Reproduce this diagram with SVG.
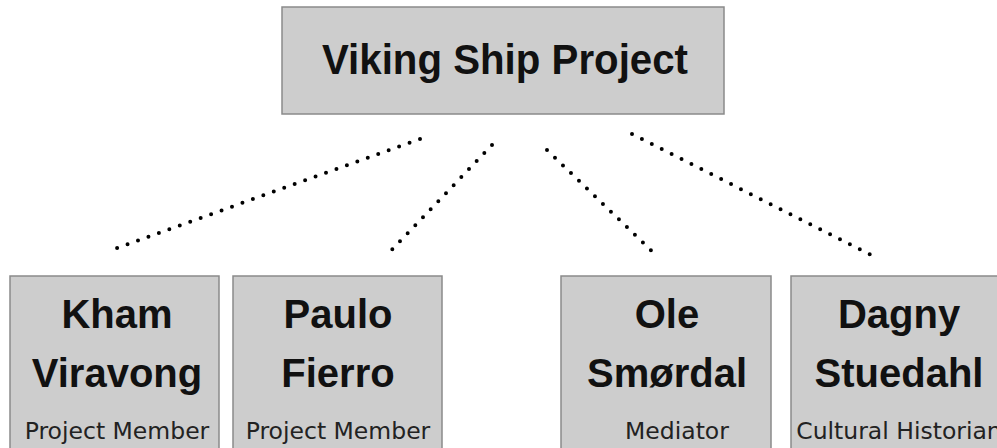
<svg xmlns="http://www.w3.org/2000/svg" width="997" height="448" viewBox="0 0 997 448">
<style>
.box{fill:#cdcdcd;stroke:#8a8a8a;stroke-width:1.5}
.title{font-family:"Liberation Sans",Arial,sans-serif;font-weight:bold;font-size:42px;fill:#111;text-anchor:middle}
.name{font-family:"Liberation Sans",Arial,sans-serif;font-weight:bold;font-size:40px;fill:#111;text-anchor:middle}
.role{font-family:"DejaVu Sans",Verdana,sans-serif;font-size:23.5px;fill:#222;text-anchor:middle}
.dot{fill:none;stroke:#000;stroke-width:4;stroke-linecap:round;stroke-dasharray:0 11.1}
</style>
<rect width="997" height="448" fill="#fff"/>
<g id="connectors">
<line class="dot" x1="420" y1="139" x2="117" y2="248"/>
<line class="dot" x1="492" y1="145" x2="385" y2="257"/>
<line class="dot" x1="547" y1="150" x2="658" y2="257"/>
<line class="dot" x1="632" y1="134" x2="879" y2="259"/>
</g>
<g id="viking-ship-project">
<rect class="box" x="282" y="7" width="442" height="107"/>
<text class="title" x="505" y="74" textLength="366" lengthAdjust="spacingAndGlyphs">Viking Ship Project</text>
</g>
<g id="kham-viravong">
<rect class="box" x="10" y="276" width="209" height="180"/>
<text class="name" x="117" y="328">Kham</text>
<text class="name" x="117" y="387">Viravong</text>
<text class="role" x="117" y="439">Project Member</text>
</g>
<g id="paulo-fierro">
<rect class="box" x="233" y="276" width="209" height="180"/>
<text class="name" x="338" y="328">Paulo</text>
<text class="name" x="338" y="387">Fierro</text>
<text class="role" x="338" y="439">Project Member</text>
</g>
<g id="ole-smordal">
<rect class="box" x="561" y="276" width="210" height="180"/>
<text class="name" x="667" y="328">Ole</text>
<text class="name" x="667" y="387">Smørdal</text>
<text class="role" x="677" y="439">Mediator</text>
</g>
<g id="dagny-stuedahl">
<rect class="box" x="791" y="276" width="210" height="180"/>
<text class="name" x="899" y="328">Dagny</text>
<text class="name" x="899" y="387">Stuedahl</text>
<text class="role" x="899" y="439">Cultural Historian</text>
</g>
</svg>
